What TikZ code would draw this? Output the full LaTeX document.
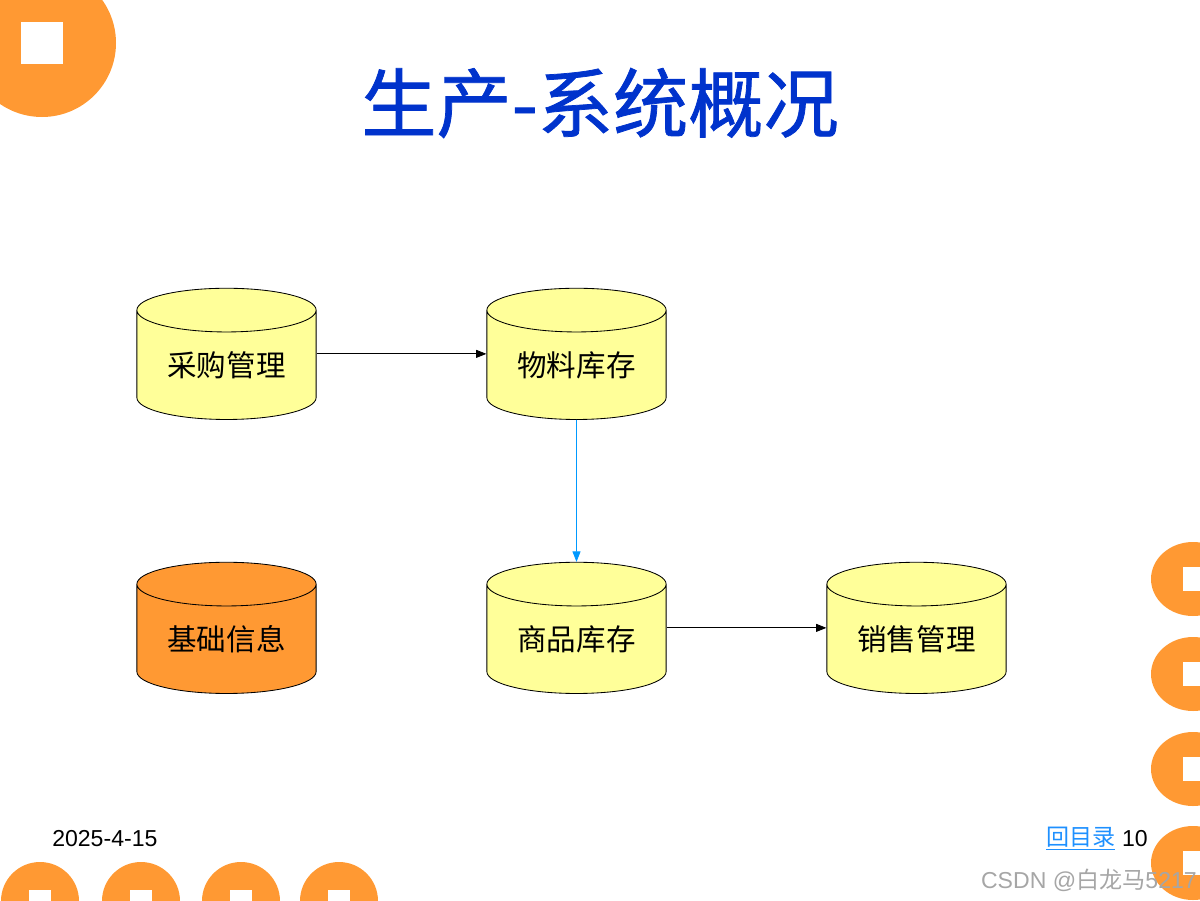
\documentclass[tikz,border=0pt]{standalone}
\usepackage{fontspec}
\setmainfont{Liberation Sans}
\newfontfamily\cjk{Noto Sans CJK SC}
\newfontfamily\cjkheavy[FakeBold=1]{Noto Sans CJK SC}
\usepackage{xcolor}
\usetikzlibrary{arrows.meta, positioning, shapes.geometric}
\definecolor{slideOrange}{HTML}{FF9933}
\definecolor{slideYellow}{HTML}{FFFF99}
\definecolor{slideTitle}{HTML}{0033CC}
\definecolor{slideLink}{HTML}{1E90FF}
\definecolor{flowBlue}{HTML}{0099FF}

\begin{document}
\begin{tikzpicture}[
  x=0.025cm, y=-0.025cm,
  font=\cjk,
  db/.style={draw, cylinder, shape border rotate=90, aspect=0.37,
             minimum width=4.48cm, minimum height=3.28cm, line width=0.6pt,
             fill=slideYellow, font=\cjk\fontsize{21}{24}\selectfont, inner sep=0pt},
  dbbase/.style={db, fill=slideOrange},
  deco/.style={fill=slideOrange, draw=none},
  hole/.style={fill=white, draw=none},
  a/.style={-{Triangle[length=2.6mm, width=2mm]}, line width=0.6pt},
  ab/.style={a, draw=flowBlue, fill=flowBlue}
]
\clip (0,0) rectangle (1200,900);
\useasboundingbox (0,0) rectangle (1200,900);

% corner and edge marks
\fill[deco] (42,43) circle[radius=74];
\fill[hole] (21,22) rectangle (63,64);
\foreach \cx in {40,141,241,339} {
  \fill[deco] (\cx,901) circle[radius=39];
  \fill[hole] (\cx-11,890) rectangle (\cx+11,912);
}
\foreach \cy in {579,674,769,863} {
  \fill[deco] (1193,\cy) ellipse[x radius=42, y radius=37];
  \fill[hole] (1183,\cy-12) rectangle (1207,\cy+12);
}

\node[text=slideTitle, font=\cjkheavy\fontsize{53.5}{60}\selectfont] (title) at (600,103) {生产-系统概况};

% text sits a little below the middle of each drum
\node[db] (purchase) at (226.5,365) {采购管理};
\node[db] (material) at (576.5,365) {物料库存};
\node[dbbase] (basic) at (226.5,639) {基础信息};
\node[db] (goods) at (576.5,639) {商品库存};
\node[db] (sales) at (916.5,639) {销售管理};

\draw[a] (purchase.shape center -| purchase.east) -- (material.shape center -| material.west);
\draw[ab] (material) -- (goods);
\draw[a] (goods.shape center -| goods.east) -- (sales.shape center -| sales.west);

\node[anchor=west, font=\fontsize{16.4}{19}\selectfont, inner sep=0pt] (date) at (52,839) {2025-4-15};
\node[anchor=west, font=\cjk\fontsize{16.4}{19}\selectfont, text=slideLink, inner sep=0pt] (toc) at (1046,839) {\underline{回目录}};
\node[right=0.15cm of toc, font=\fontsize{16.4}{19}\selectfont, inner sep=0pt] (page) {10};
\node[anchor=east, font=\fontsize{16.4}{19}\selectfont, text=black!35, inner sep=0pt] (mark) at (1197,880) {CSDN @{\cjk 白龙马}5217};

\end{tikzpicture}
\end{document}
